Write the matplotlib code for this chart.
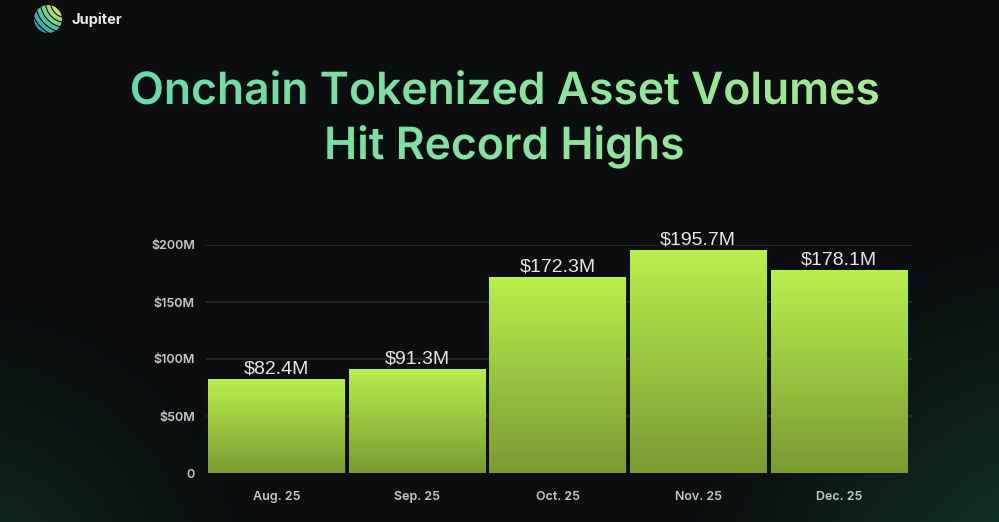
import numpy as np
import matplotlib
matplotlib.use("Agg")
import matplotlib.pyplot as plt
from matplotlib.textpath import TextPath
from matplotlib.font_manager import FontProperties
from matplotlib.patches import PathPatch, Circle, Arc
from matplotlib.transforms import Affine2D
from matplotlib.ticker import FuncFormatter

# datos del grafico
meses = ["Aug. 25", "Sep. 25", "Oct. 25", "Nov. 25", "Dec. 25"]
volumenes = [82.4, 91.3, 172.3, 195.7, 178.1]  # millones USD
etiquetas = ["$82.4M", "$91.3M", "$172.3M", "$195.7M", "$178.1M"]
ticks_y = [0, 50, 100, 150, 200]
titulo = ["Onchain Tokenized Asset Volumes", "Hit Record Highs"]

W, H = 999, 522
fig = plt.figure(figsize=(W / 100, H / 100), dpi=100)

# fondo oscuro con brillo verde en las esquinas de abajo
bg = fig.add_axes([0, 0, 1, 1])
bg.set_xlim(0, W)
bg.set_ylim(H, 0)
bg.axis("off")
yy, xx = np.mgrid[0:H, 0:W]
base = np.array([11, 13, 15]) / 255.0
verde = np.array([18, 72, 54]) / 255.0
g1 = np.clip(1 - np.hypot(xx + 40, yy - 600) / 330, 0, 1) ** 1.5 * 0.6
g2 = np.clip(1 - np.hypot(xx - 1080, yy - 640) / 430, 0, 1) ** 1.3 * 0.95
g = np.clip(g1 + g2, 0, 1)[..., None]
img = base * (1 - g) + verde * g
bg.imshow(img, extent=(0, W, H, 0), aspect="auto", zorder=0)

# titulo con degradado horizontal
fp = FontProperties(family="Inter", weight="semibold")
tp1 = TextPath((0, 0), titulo[0], size=48, prop=fp)
ext = tp1.get_extents()
escala = 746 / ext.width
grad = np.linspace(0, 1, 256)[None, :]
c_izq = np.array([104, 218, 170]) / 255.0
c_der = np.array([168, 234, 148]) / 255.0
grad_img = c_izq[None, None, :] * (1 - grad[..., None]) + c_der[None, None, :] * grad[..., None]
for linea, base_y in zip(titulo, [104, 159]):
    tp = TextPath((0, 0), linea, size=48, prop=fp)
    e = tp.get_extents()
    ancho = e.width * escala
    x0 = 505 - ancho / 2 - e.x0 * escala
    tr = Affine2D().scale(escala, -escala).translate(x0, base_y)
    path = tr.transform_path(tp)
    patch = PathPatch(path, transform=bg.transData, facecolor="none", edgecolor="none")
    bg.add_patch(patch)
    im = bg.imshow(grad_img, extent=(125, 885, base_y + 15, base_y - 45),
                   aspect="auto", zorder=2)
    im.set_clip_path(patch)

# logo Jupiter: franjas curvas dentro de un circulo
circ = Circle((48, 19), 14, transform=bg.transData, facecolor="none", edgecolor="none")
bg.add_patch(circ)
colores_logo = ["#d6ea70", "#c0e66e", "#a2dc78", "#7ccf8a", "#5cc09c", "#44aeaa", "#3598ab"]
for i, c in enumerate(colores_logo):
    r = 8 + i * 5.0
    a = Arc((66, 2), 2 * r, 2 * r, angle=0, theta1=40, theta2=250,
            color=c, lw=2.8, zorder=3)
    bg.add_patch(a)
    a.set_clip_path(circ)
bg.text(71, 20, "Jupiter", color="#e8e8e8", fontsize=10.5, fontweight="bold",
        family="Inter", va="center", ha="left", zorder=3)

# grafico de barras
ax = fig.add_axes([206 / W, 1 - 473 / H, (912 - 206) / W, (473 - 245) / H])
ax.set_facecolor("none")
x = np.arange(len(meses))
barras = ax.bar(x, volumenes, width=0.97, color="#9ccb42", edgecolor="#1a1f12",
                linewidth=0.8, zorder=2)

# degradado vertical dentro de cada barra
v = np.linspace(0, 1, 256)[:, None]
top = np.array([184, 240, 76]) / 255.0
bot = np.array([122, 155, 52]) / 255.0
bar_img = (top[None, None, :] * (1 - v[..., None]) + bot[None, None, :] * v[..., None])
for b in barras:
    bx, bw, bh = b.get_x(), b.get_width(), b.get_height()
    im = ax.imshow(bar_img, extent=(bx, bx + bw, 0, bh), aspect="auto", zorder=3)
    im.set_clip_path(b)

for xi, val, lab in zip(x, volumenes, etiquetas):
    ax.annotate(lab, (xi, val), xytext=(0, 1.0), textcoords="offset points",
                ha="center", va="bottom", color="#e6e6e6", fontsize=14,
                family="Liberation Sans", zorder=4, annotation_clip=False)

ax.set_xlim(-0.5, 4.52)
ax.set_ylim(0, 200)
ax.set_yticks(ticks_y)
ax.yaxis.set_major_formatter(FuncFormatter(lambda v, p: "0" if v == 0 else f"${v:.0f}M"))
ax.set_xticks(x)
ax.set_xticklabels(meses)
for s in ax.spines.values():
    s.set_visible(False)
ax.tick_params(length=0, colors="#c8c8c8", labelsize=9)
ax.tick_params(axis="y", pad=8)
ax.tick_params(axis="x", pad=13)
for t in ax.get_xticklabels() + ax.get_yticklabels():
    t.set_family("Inter")
    t.set_fontweight("semibold")
for yv in ticks_y[1:]:
    ax.axhline(yv, xmin=0, xmax=1, color="#2c3033", lw=1.1, zorder=1)

fig.savefig("out.png", dpi=100, facecolor="#0b0d0f")
